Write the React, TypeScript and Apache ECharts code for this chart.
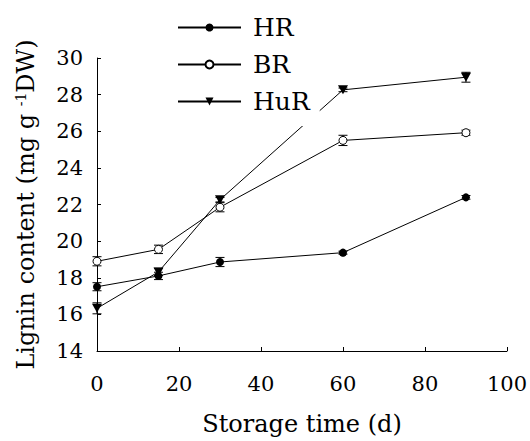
import React, { useEffect, useRef } from 'react';
import * as echarts from 'echarts';

const days = [0, 15, 30, 60, 90];
const seriesNames = ['HR', 'BR', 'HuR'];
const hr = [17.51, 18.1, 18.86, 19.37, 22.39];
const hrErr = [0.22, 0.2, 0.25, 0.08, 0.1];
const br = [18.9, 19.55, 21.85, 25.5, 25.92];
const brErr = [0.25, 0.23, 0.25, 0.28, 0.14];
const hur = [16.33, 18.32, 22.26, 28.26, 28.95];
const hurErr = [0.3, 0.2, 0.12, 0.1, 0.27];

const FONT = 'DejaVu Serif';

function errData(vals: number[], errs: number[]) {
  return days.map((d, i) => [d, vals[i] - errs[i], vals[i] + errs[i]]);
}

function renderErr(params: any, api: any) {
  const x = api.value(0);
  const lo = api.coord([x, api.value(1)]);
  const hi = api.coord([x, api.value(2)]);
  const hw = 4.5;
  const style = { stroke: '#000', lineWidth: 1 };
  return {
    type: 'group',
    children: [
      { type: 'line', shape: { x1: lo[0], y1: lo[1], x2: hi[0], y2: hi[1] }, style },
      { type: 'line', shape: { x1: lo[0] - hw, y1: lo[1], x2: lo[0] + hw, y2: lo[1] }, style },
      { type: 'line', shape: { x1: hi[0] - hw, y1: hi[1], x2: hi[0] + hw, y2: hi[1] }, style },
    ],
  };
}

export default function App() {
  const ref = useRef<HTMLDivElement>(null);
  useEffect(() => {
    document.body.style.margin = '0';
    const chart = echarts.init(ref.current!, null, { renderer: 'svg' });
    const lineBase = {
      type: 'line',
      lineStyle: { color: '#000', width: 1 },
      z: 3,
    };
    chart.setOption({
      animation: false,
      grid: { left: 97, right: 22, top: 58, bottom: 88 },
      legend: {
        orient: 'vertical',
        left: 172,
        top: 10,
        itemWidth: 63,
        itemHeight: 10,
        itemGap: 12,
        padding: [5, 10, 12, 5],
        backgroundColor: '#fff',
        textStyle: { fontFamily: FONT, fontSize: 25, color: '#000', padding: [0, 0, 0, 7] },
        data: seriesNames,
      },
      xAxis: {
        type: 'value',
        min: 0,
        max: 100,
        interval: 20,
        name: 'Storage time (d)',
        nameLocation: 'middle',
        nameGap: 61,
        nameTextStyle: { fontFamily: FONT, fontSize: 24, color: '#000' },
        axisLine: { lineStyle: { color: '#000', width: 1 } },
        axisTick: { inside: true, length: 4, lineStyle: { color: '#000' } },
        axisLabel: { fontFamily: FONT, fontSize: 21, color: '#000', margin: 22 },
        splitLine: { show: false },
      },
      yAxis: {
        type: 'value',
        min: 14,
        max: 30,
        interval: 2,
        name: 'Lignin content (mg g {sup|-1}DW)',
        nameLocation: 'middle',
        nameGap: 59,
        nameRotate: 90,
        nameTextStyle: {
          fontFamily: FONT,
          fontSize: 24,
          color: '#000',
          rich: { sup: { fontFamily: FONT, fontSize: 14, color: '#000', verticalAlign: 'top' } },
        },
        axisLine: { show: true, lineStyle: { color: '#000', width: 1 } },
        axisTick: { show: true, inside: true, length: 4, lineStyle: { color: '#000' } },
        axisLabel: { fontFamily: FONT, fontSize: 21, color: '#000', margin: 14 },
        splitLine: { show: false },
      },
      series: [
        {
          ...lineBase,
          name: 'HR',
          data: days.map((d, i) => [d, hr[i]]),
          symbol: 'circle',
          symbolSize: 8,
          itemStyle: { color: '#000' },
        },
        {
          ...lineBase,
          name: 'BR',
          data: days.map((d, i) => [d, br[i]]),
          symbol: 'circle',
          symbolSize: 8,
          itemStyle: { color: '#fff', borderColor: '#000', borderWidth: 1 },
        },
        {
          ...lineBase,
          name: 'HuR',
          data: days.map((d, i) => [d, hur[i]]),
          symbol: 'path://M0,0L10,0L5,9Z',
          symbolSize: [10, 9],
          itemStyle: { color: '#000' },
        },
        { type: 'custom', renderItem: renderErr, data: errData(hr, hrErr), z: 1, silent: true },
        { type: 'custom', renderItem: renderErr, data: errData(br, brErr), z: 1, silent: true },
        { type: 'custom', renderItem: renderErr, data: errData(hur, hurErr), z: 1, silent: true },
      ],
    });
    return () => chart.dispose();
  }, []);
  return <div ref={ref} style={{ width: 530, height: 441 }} />;
}
